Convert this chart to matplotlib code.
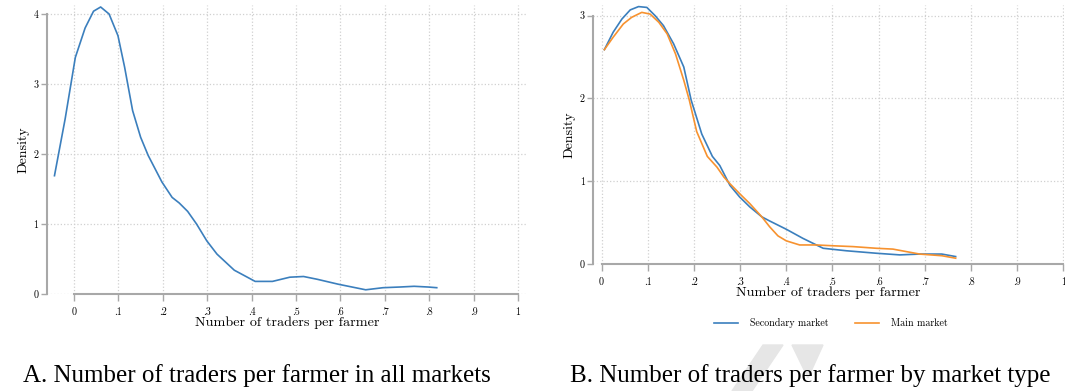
import matplotlib
matplotlib.use("Agg")
import matplotlib.pyplot as plt
from matplotlib.patches import Polygon

# ---- data ----
all_x = [-0.044, -0.020, 0.003, 0.025, 0.044, 0.060, 0.079, 0.099, 0.114, 0.132, 0.150,
         0.167, 0.198, 0.221, 0.237, 0.256, 0.276, 0.299, 0.322, 0.361, 0.408, 0.447,
         0.486, 0.517, 0.548, 0.595, 0.626, 0.657, 0.696, 0.735, 0.766, 0.797, 0.817]
all_y = [1.69, 2.50, 3.38, 3.80, 4.04, 4.10, 4.00, 3.69, 3.24, 2.62, 2.24,
         1.98, 1.60, 1.38, 1.30, 1.18, 1.00, 0.76, 0.57, 0.34, 0.18, 0.18,
         0.24, 0.25, 0.21, 0.14, 0.10, 0.06, 0.09, 0.10, 0.11, 0.10, 0.09]

sec_x = [0.006, 0.025, 0.044, 0.062, 0.080, 0.098, 0.116, 0.134, 0.156, 0.178, 0.194,
         0.217, 0.240, 0.256, 0.278, 0.299, 0.321, 0.347, 0.364, 0.400, 0.436, 0.480,
         0.530, 0.595, 0.646, 0.689, 0.737, 0.767]
sec_y = [2.59, 2.80, 2.96, 3.07, 3.11, 3.10, 3.00, 2.88, 2.66, 2.38, 1.98,
         1.57, 1.30, 1.19, 0.95, 0.81, 0.69, 0.57, 0.52, 0.42, 0.31, 0.19,
         0.16, 0.13, 0.11, 0.12, 0.12, 0.09]

main_x = [0.006, 0.025, 0.047, 0.065, 0.087, 0.105, 0.124, 0.142, 0.160, 0.178, 0.190,
          0.206, 0.229, 0.250, 0.265, 0.278, 0.299, 0.321, 0.347, 0.364, 0.382, 0.400,
          0.429, 0.465, 0.502, 0.545, 0.595, 0.631, 0.660, 0.689, 0.737, 0.767]
main_y = [2.59, 2.74, 2.90, 2.98, 3.04, 3.02, 2.92, 2.78, 2.54, 2.22, 1.98,
          1.60, 1.30, 1.17, 1.05, 0.97, 0.85, 0.73, 0.57, 0.45, 0.34, 0.28,
          0.23, 0.23, 0.22, 0.21, 0.19, 0.18, 0.15, 0.12, 0.10, 0.07]

xticks = [0, .1, .2, .3, .4, .5, .6, .7, .8, .9, 1]
xticklabels = ["0", ".1", ".2", ".3", ".4", ".5", ".6", ".7", ".8", ".9", "1"]
captions = ["A. Number of traders per farmer in all markets",
            "B. Number of traders per farmer by market type"]

BLUE = "#3b7fbd"
ORANGE = "#f7922f"
SPINE = "#a8a8a8"
W, H = 1065, 391

plt.rcParams['font.family'] = ['cmr10', 'DejaVu Serif']
plt.rcParams['axes.unicode_minus'] = False


def px_axes(fig, left, top, right, bottom):
    return fig.add_axes([left / W, 1 - bottom / H, (right - left) / W, (bottom - top) / H])


def style(ax, ymax, xpad):
    ax.set_xticks(xticks)
    ax.set_xticklabels(xticklabels)
    ax.set_yticks(range(int(ymax) + 1))
    for s in ["top", "right"]:
        ax.spines[s].set_visible(False)
    for s in ["left", "bottom"]:
        ax.spines[s].set_color(SPINE)
        ax.spines[s].set_linewidth(1.5)
    ax.spines["bottom"].set_bounds(0, 1)
    ax.spines["left"].set_bounds(0, int(ymax))
    ax.grid(True, linestyle=":", color="#d0d0d0", linewidth=0.9)
    ax.set_axisbelow(True)
    ax.tick_params(axis="x", length=5, width=1, color=SPINE, labelsize=7.2, pad=xpad)
    ax.tick_params(axis="y", length=4, width=1, color=SPINE, labelsize=7.2, pad=2)
    ax.set_ylabel("Density", fontsize=10, labelpad=3)
    ax.set_xlabel("Number of traders per farmer", fontsize=10.2, labelpad=0)
    ax.set_facecolor("none")


fig = plt.figure(figsize=(W / 100, H / 100), dpi=100)

# watermark shapes behind the captions
fig.patches.append(Polygon([(763 / W, 1 - 345 / H), (783 / W, 1 - 345 / H),
                            (752 / W, 1 - 391 / H), (732 / W, 1 - 391 / H)],
                           closed=True, transform=fig.transFigure, color="#e6e6e6", zorder=0))
fig.patches.append(Polygon([(792 / W, 1 - 345 / H), (823 / W, 1 - 345 / H),
                            (808 / W, 1 - 378 / H)],
                           closed=True, transform=fig.transFigure, color="#e6e6e6", zorder=0))

# panel A
ax1 = px_axes(fig, 46.7, 5, 527, 294)
ax1.plot(all_x, all_y, color=BLUE, linewidth=1.2)
ax1.set_xlim(-0.0615, (527 - 74) / 444)
ax1.set_ylim(0, 4 + 9 / 70)
style(ax1, 4, 4.5)

# panel B
ax2 = px_axes(fig, 593.3, 5, 1064, 264)
ax2.plot(sec_x, sec_y, color=BLUE, linewidth=1.2, label="Secondary market")
ax2.plot(main_x, main_y, color=ORANGE, linewidth=1.2, label="Main market")
ax2.set_xlim(-0.018, (1064 - 601.7) / 461.5)
ax2.set_ylim(0, 3 + 10.7 / 82.8)
style(ax2, 3, 4.5)
ax2.legend(loc="center", bbox_to_anchor=(831 / W, 1 - 323 / H), bbox_transform=fig.transFigure,
           ncol=2, frameon=False, fontsize=7.2, handlelength=2.4, columnspacing=2.6,
           handletextpad=1.2)

fig.text(257 / W, 1 - 376 / H, captions[0], ha="center", va="center",
         family="Liberation Serif", fontsize=18)
fig.text(810 / W, 1 - 376 / H, captions[1], ha="center", va="center",
         family="Liberation Serif", fontsize=18)

fig.savefig("out.png", dpi=100)
